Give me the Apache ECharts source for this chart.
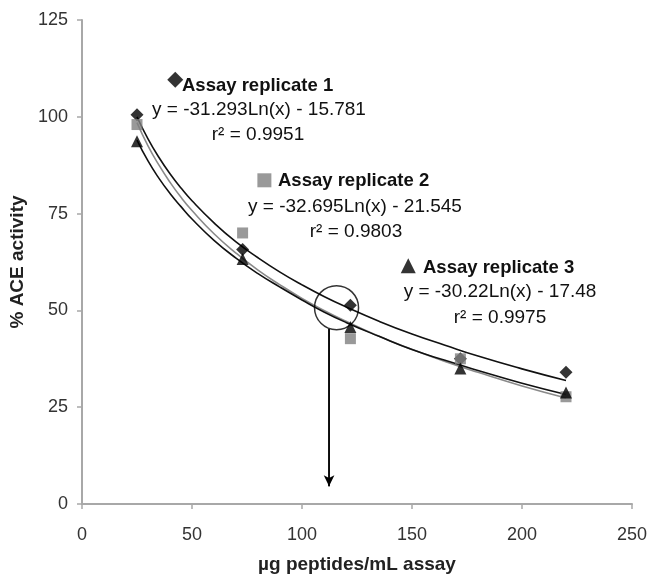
<!DOCTYPE html>
<html>
<head>
<meta charset="utf-8">
<script src="https://cdn.jsdelivr.net/npm/echarts@6/dist/echarts.min.js"></script>
<style>
  html, body { margin: 0; padding: 0; background: #fff; }
  #chart { width: 648px; height: 575px; }
</style>
</head>
<body>
<div id="chart"></div>
<script>
// measured points (x = µg peptides/mL assay, y = % ACE activity)
const doses = [25, 73, 122, 172, 220];
const rep1 = [100.5, 65.7, 51.3, 37.5, 34.0];
const rep2 = [98.0, 70.0, 42.7, 37.5, 27.7];
const rep3 = [93.7, 63.3, 45.7, 35.0, 28.8];

// trendlines
const trendX = [25, 30, 35, 40, 45, 50, 60, 70, 80, 90, 100, 110, 120, 135, 150, 165, 180, 200, 220];
const trend1 = [100.0, 94.3, 89.5, 85.3, 81.6, 78.3, 72.6, 67.7, 63.6, 59.9, 56.6, 53.6, 50.9, 47.2, 43.9, 41.0, 38.2, 34.9, 31.9];
const trend2 = [98.5, 92.5, 87.5, 83.1, 79.2, 75.8, 69.8, 64.8, 60.4, 56.6, 53.1, 50.0, 47.2, 43.3, 39.9, 36.8, 34.0, 30.5, 27.4];
const trend3 = [94.0, 88.6, 84.1, 80.2, 76.8, 73.6, 68.1, 63.5, 59.5, 56.0, 52.7, 49.6, 46.9, 43.3, 39.9, 37.1, 34.5, 31.2, 28.3];

// legend markers, circle and arrow (data coords)
const legendPts = [[42.4, 109.6], [82.9, 83.6], [148.3, 61.5]];
const circlePt = [115.7, 50.7];
const arrowLine = [[112.3, 45.2], [112.3, 4.6]];

const xTicks = [0, 50, 100, 150, 200, 250];
const yTicks = [0, 25, 50, 75, 100, 125];

const FONT = 'Liberation Sans, Arial, sans-serif';

const zip = (xs, ys) => xs.map((x, i) => [x, ys[i]]);

const chart = echarts.init(document.getElementById('chart'));

const trendStyle = (color) => ({
  type: 'line',
  smooth: true,
  showSymbol: false,
  silent: true,
  lineStyle: { color: color, width: 1.6 },
  z: 2
});

chart.setOption({
  animation: false,
  backgroundColor: '#fff',
  grid: { left: 82, right: 16, top: 20, bottom: 71, outerBoundsMode: 'none', containLabel: false },
  xAxis: {
    type: 'value',
    min: xTicks[0],
    max: xTicks[xTicks.length - 1],
    interval: 50,
    name: 'µg peptides/mL assay',
    nameLocation: 'middle',
    nameGap: 51,
    nameTextStyle: { fontFamily: FONT, fontSize: 19, fontWeight: 'bold', color: '#222' },
    axisLine: { show: true, lineStyle: { color: '#a8a8a8', width: 2 } },
    axisTick: { show: true, length: 5, lineStyle: { color: '#a8a8a8', width: 1.5 } },
    axisLabel: { fontFamily: FONT, fontSize: 18, color: '#333', margin: 22 },
    splitLine: { show: false }
  },
  yAxis: {
    type: 'value',
    min: yTicks[0],
    max: yTicks[yTicks.length - 1],
    interval: 25,
    name: '% ACE activity',
    nameLocation: 'middle',
    nameGap: 50,
    nameTextStyle: { fontFamily: FONT, fontSize: 19, fontWeight: 'bold', color: '#222' },
    axisLine: { show: true, lineStyle: { color: '#a8a8a8', width: 2 } },
    axisTick: { show: true, length: 5, lineStyle: { color: '#a8a8a8', width: 1.5 } },
    axisLabel: { fontFamily: FONT, fontSize: 18, color: '#333', margin: 14 },
    splitLine: { show: false }
  },
  series: [
    Object.assign({ name: 'trend1', data: zip(trendX, trend1) }, trendStyle('#111')),
    Object.assign({ name: 'trend2', data: zip(trendX, trend2) }, trendStyle('#8a8a8a')),
    Object.assign({ name: 'trend3', data: zip(trendX, trend3) }, trendStyle('#111')),
    {
      name: 'Assay replicate 1', type: 'scatter', symbol: 'diamond', symbolSize: 13,
      itemStyle: { color: '#000' }, data: zip(doses, rep1), z: 3
    },
    {
      name: 'Assay replicate 2', type: 'scatter', symbol: 'rect', symbolSize: 11,
      itemStyle: { color: '#808080' }, data: zip(doses, rep2), z: 4
    },
    {
      name: 'Assay replicate 3', type: 'scatter', symbol: 'triangle', symbolSize: 12,
      itemStyle: { color: '#000' }, data: zip(doses, rep3), z: 5
    },
    {
      name: 'legend marks', type: 'scatter', silent: true, z: 6,
      data: [
        { value: legendPts[0], symbol: 'diamond', symbolSize: 16, itemStyle: { color: '#000' } },
        { value: legendPts[1], symbol: 'rect', symbolSize: 14, itemStyle: { color: '#808080' } },
        { value: legendPts[2], symbol: 'triangle', symbolSize: 15, itemStyle: { color: '#000' } }
      ]
    },
    {
      name: 'circle', type: 'scatter', silent: true, z: 6,
      symbol: 'circle', symbolSize: 44,
      itemStyle: { color: 'rgba(0,0,0,0)', borderColor: '#000', borderWidth: 1.5 },
      data: [circlePt]
    },
    {
      name: 'arrow', type: 'line', silent: true, z: 6,
      data: arrowLine,
      symbol: 'none',
      lineStyle: { color: '#000', width: 1.5 },
      markLine: {
        silent: true,
        symbol: ['none', 'arrow'],
        symbolSize: [8, 11],
        label: { show: false },
        lineStyle: { color: '#000', width: 1.5, type: 'solid' },
        data: [[{ coord: arrowLine[0] }, { coord: arrowLine[1] }]]
      }
    }
  ],
  graphic: [
    { type: 'text', left: 182, top: 76, style: { text: 'Assay replicate 1', font: 'bold 18.5px ' + FONT, fill: '#111' } },
    { type: 'text', x: 259, y: 110, style: { text: 'y = -31.293Ln(x) - 15.781', font: '19px ' + FONT, fill: '#111', align: 'center', verticalAlign: 'middle' } },
    { type: 'text', x: 258, y: 135, style: { text: 'r² = 0.9951', font: '19px ' + FONT, fill: '#111', align: 'center', verticalAlign: 'middle' } },

    { type: 'text', left: 278, top: 171, style: { text: 'Assay replicate 2', font: 'bold 18.5px ' + FONT, fill: '#111' } },
    { type: 'text', x: 355, y: 207, style: { text: 'y = -32.695Ln(x) - 21.545', font: '19px ' + FONT, fill: '#111', align: 'center', verticalAlign: 'middle' } },
    { type: 'text', x: 356, y: 232, style: { text: 'r² = 0.9803', font: '19px ' + FONT, fill: '#111', align: 'center', verticalAlign: 'middle' } },

    { type: 'text', left: 423, top: 258, style: { text: 'Assay replicate 3', font: 'bold 18.5px ' + FONT, fill: '#111' } },
    { type: 'text', x: 500, y: 292, style: { text: 'y = -30.22Ln(x) - 17.48', font: '19px ' + FONT, fill: '#111', align: 'center', verticalAlign: 'middle' } },
    { type: 'text', x: 500, y: 318, style: { text: 'r² = 0.9975', font: '19px ' + FONT, fill: '#111', align: 'center', verticalAlign: 'middle' } }
  ]
});
</script>
</body>
</html>
